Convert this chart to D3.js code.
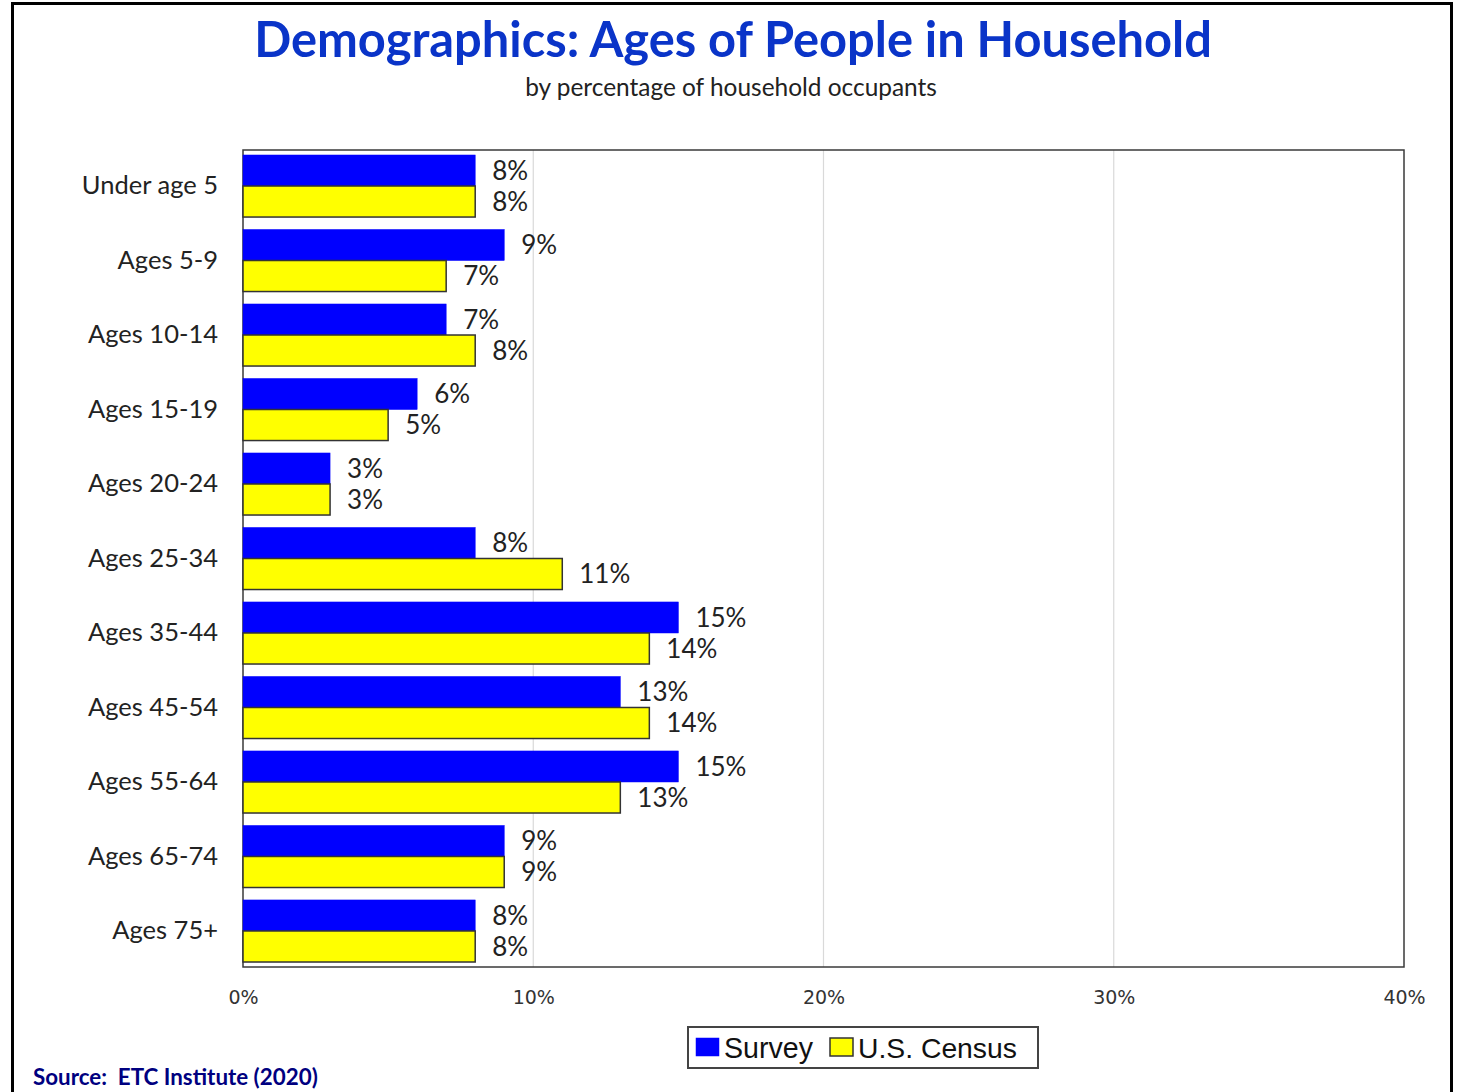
<!DOCTYPE html>
<html>
<head>
<meta charset="utf-8">
<script src="https://cdn.jsdelivr.net/npm/d3@7/dist/d3.min.js"></script>
<style>
  body { margin: 0; background: #fff; }
</style>
</head>
<body>
<script>
// data
const categories = ['Under age 5', 'Ages 5-9', 'Ages 10-14', 'Ages 15-19', 'Ages 20-24',
  'Ages 25-34', 'Ages 35-44', 'Ages 45-54', 'Ages 55-64', 'Ages 65-74', 'Ages 75+']
const surveyValues = [8, 9, 7, 6, 3, 8, 15, 13, 15, 9, 8]
const censusValues = [8, 7, 8, 5, 3, 11, 14, 14, 13, 9, 8]
const seriesNames = ['Survey', 'U.S. Census']
const seriesColors = ['#0000ff', '#ffff00']
const xTicks = [0, 10, 20, 30, 40]

const W = 1460, H = 1092
const plot = {left: 243, right: 1404, top: 150, bottom: 967}
const mainFont = 'Lato, "Open Sans", sans-serif'

const svg = d3.select('body').append('svg')
  .attr('width', W)
  .attr('height', H)
  .style('font-family', mainFont)

// outer frame
svg.append('rect')
  .attr('x', 12.5).attr('y', 3.5)
  .attr('width', 1439).attr('height', 1120)
  .attr('fill', 'none').attr('stroke', '#000').attr('stroke-width', 3)

// shrink/grow a text to a wanted width
function fitWidth(sel, target) {
  const w = sel.node().getComputedTextLength()
  const fs = parseFloat(sel.style('font-size'))
  sel.style('font-size', (fs * target / w) + 'px')
}

const title = svg.append('text')
  .attr('x', 733).attr('y', 57)
  .attr('text-anchor', 'middle')
  .style('font-size', '46px').style('font-weight', 'bold')
  .attr('fill', '#0a34c8')
  .text('Demographics: Ages of People in Household')
fitWidth(title, 958)

const subtitle = svg.append('text')
  .attr('x', 731).attr('y', 96)
  .attr('text-anchor', 'middle')
  .style('font-size', '22px').attr('fill', '#222')
  .text('by percentage of household occupants')
fitWidth(subtitle, 412)

const data = categories.map((c, i) => ({
  cat: c,
  vals: [surveyValues[i], censusValues[i]]
}))

const xScale = d3.scaleLinear().domain([0, 40]).range([plot.left, plot.right])
const yScale = d3.scaleBand()
  .domain(categories)
  .range([plot.top, plot.bottom])
  .paddingInner(0.167)
  .paddingOuter(0.067)
const ySub = d3.scaleBand().domain([0, 1]).range([0, yScale.bandwidth()])

// gridlines
svg.append('g').selectAll('line')
  .data(xTicks.filter(t => t > 0 && t < 40))
  .join('line')
  .attr('x1', d => xScale(d)).attr('x2', d => xScale(d))
  .attr('y1', plot.top).attr('y2', plot.bottom)
  .attr('stroke', '#d9d9d9').attr('stroke-width', 1.2)

// plot border
svg.append('rect')
  .attr('x', plot.left).attr('y', plot.top)
  .attr('width', plot.right - plot.left).attr('height', plot.bottom - plot.top)
  .attr('fill', 'none').attr('stroke', '#3a3a3a').attr('stroke-width', 1.5)

// bars
const groups = svg.append('g').selectAll('g')
  .data(data)
  .join('g')
  .attr('transform', d => `translate(0,${yScale(d.cat)})`)

groups.selectAll('rect')
  .data(d => d.vals.map((v, i) => ({v, i})))
  .join('rect')
  .attr('x', xScale(0))
  .attr('y', d => ySub(d.i))
  .attr('width', d => xScale(d.v) - xScale(0))
  .attr('height', ySub.bandwidth())
  .attr('fill', d => seriesColors[d.i])
  .attr('stroke', d => d.i === 0 ? '#0000ff' : '#333')
  .attr('stroke-width', d => d.i === 0 ? 0.5 : 1.5)

groups.selectAll('text')
  .data(d => d.vals.map((v, i) => ({v, i})))
  .join('text')
  .attr('x', d => xScale(d.v) + 17)
  .attr('y', d => ySub(d.i) + ySub.bandwidth() / 2)
  .attr('dy', '0.36em')
  .style('font-size', '26px')
  .attr('fill', '#222')
  .text(d => d.v + '%')

// category labels
const yAxis = d3.axisLeft(yScale).tickSize(0).tickPadding(25)
svg.append('g')
  .attr('transform', `translate(${plot.left},0)`)
  .call(yAxis)
  .call(g => g.select('.domain').remove())
  .selectAll('text')
  .style('font-family', mainFont)
  .style('font-size', '25.5px')
  .attr('fill', '#222')

// x axis labels
const xAxis = d3.axisBottom(xScale).tickValues(xTicks).tickFormat(d => d + '%').tickSize(0).tickPadding(24)
svg.append('g')
  .attr('transform', `translate(0,${plot.bottom})`)
  .call(xAxis)
  .call(g => g.select('.domain').remove())
  .selectAll('text')
  .style('font-family', '"DejaVu Sans", sans-serif')
  .style('font-size', '19px')
  .attr('fill', '#333')

// legend
const legend = svg.append('g')
legend.append('rect')
  .attr('x', 688).attr('y', 1027).attr('width', 350).attr('height', 41)
  .attr('fill', '#fff').attr('stroke', '#444').attr('stroke-width', 2)
const legX = [696, 830]
seriesNames.forEach((s, i) => {
  legend.append('rect')
    .attr('x', legX[i]).attr('y', 1038).attr('width', 23).attr('height', 18)
    .attr('fill', seriesColors[i])
    .attr('stroke', i === 0 ? '#0000ff' : '#333').attr('stroke-width', i === 0 ? 0.5 : 1.5)
  const t = legend.append('text')
    .attr('x', legX[i] + 28).attr('y', 1058)
    .style('font-family', '"Liberation Sans", Arial, sans-serif')
    .style('font-size', '27px').attr('fill', '#111')
    .text(s)
  fitWidth(t, i === 0 ? 89 : 159)
})

// source
const source = svg.append('text')
  .attr('x', 33).attr('y', 1085)
  .style('font-size', '21px').style('font-weight', 'bold')
  .style('white-space', 'pre')
  .attr('fill', '#000080')
  .text('Source:  ETC Institute (2020)')
fitWidth(source, 285)
</script>
</body>
</html>
